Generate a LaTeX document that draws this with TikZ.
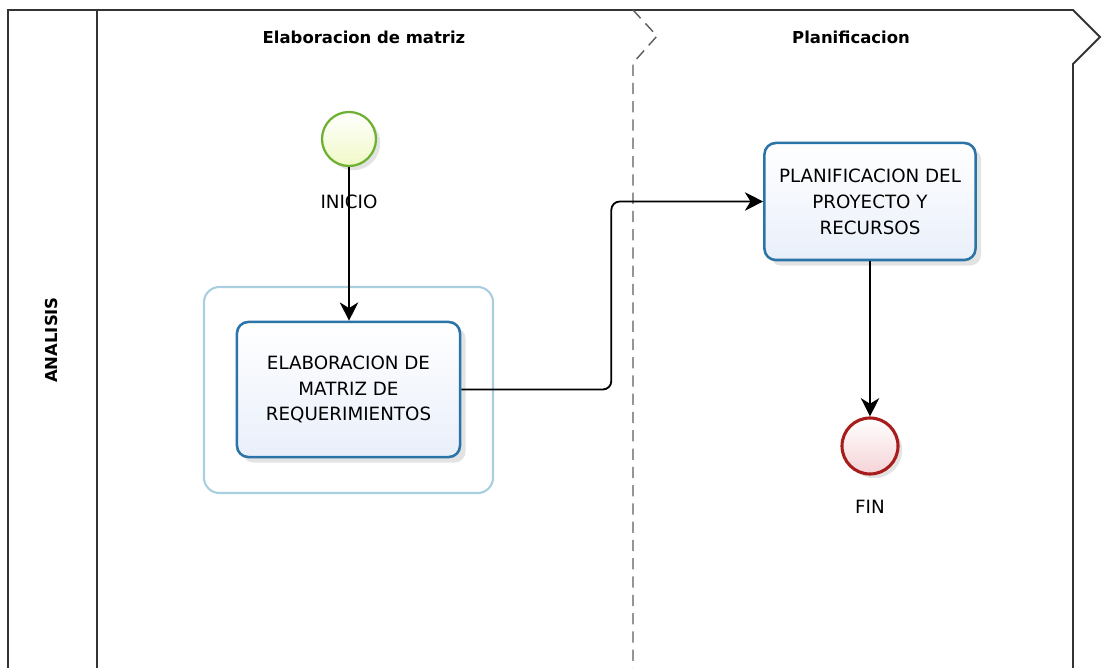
\documentclass[tikz,border=0pt]{standalone}
\usepackage{fontspec}
\setmainfont{DejaVu Sans}
\usetikzlibrary{arrows.meta,shadows}
\definecolor{tareaborde}{HTML}{2B74A8}
\definecolor{tarearelleno}{HTML}{E9EFFA}
\definecolor{grupoborde}{HTML}{A8CEE0}
\definecolor{inicioborde}{HTML}{6CB131}
\definecolor{iniciorelleno}{HTML}{F0F9C6}
\definecolor{finborde}{HTML}{A81C1C}
\definecolor{finrelleno}{HTML}{F5D3D6}
\definecolor{carril}{HTML}{333333}
\begin{document}
\begin{tikzpicture}[>={Stealth[length=13pt,width=13pt,inset=4pt]},x=0.025cm,y=-0.025cm,
    tarea/.style={draw=tareaborde,line width=1.8pt,rounded corners=8pt,top color=white,bottom color=tarearelleno,
        drop shadow={opacity=0.22,shadow xshift=4pt,shadow yshift=-4pt},align=center,font=\fontsize{13}{18.4}\selectfont},
    grupo/.style={draw=grupoborde,line width=1.5pt,rounded corners=11pt,minimum width=7.225cm,minimum height=5.15cm},
    evento/.style={circle,minimum size=#1,inner sep=0pt,drop shadow={opacity=0.22,shadow xshift=3pt,shadow yshift=-3pt}},
    etiqueta/.style={font=\fontsize{13}{15}\selectfont},
    cabecera/.style={font=\fontsize{11.7}{14}\selectfont\bfseries}]
    \useasboundingbox (0,0) rectangle (1104,668);
    % carriles
    \draw[carril,line width=1.4pt] (8,668) -- (8,10) -- (1073,10) -- (1100,37) -- (1073,64) -- (1073,668);
    \draw[carril,line width=1.4pt] (97,10) -- (97,668);
    \draw[carril!80,line width=1pt,dash pattern=on 8pt off 5pt] (633,10) -- (657,36) -- (633,63) -- (633,668);
    \node[cabecera] (cab1) at (364,37) {Elaboracion de matriz};
    \node[cabecera] (cab2) at (851,37) {Planificacion};
    \node[cabecera,rotate=90] (analisis) at (52,340) {ANALISIS};
    % nodos
    \node[grupo] (grupo) at (348.5,390) {};
    \node[evento=1.35cm,draw=inicioborde,line width=1.6pt,top color=white,bottom color=iniciorelleno] (inicio) at (349,139) {};
    \node[etiqueta] (lblinicio) at (349,202) {INICIO};
    \node[tarea,minimum width=5.575cm,minimum height=3.375cm] (matriz) at (348.5,389.5) {ELABORACION DE\\MATRIZ DE\\REQUERIMIENTOS};
    \node[tarea,minimum width=5.275cm,minimum height=2.925cm] (plan) at (870,201.5) {PLANIFICACION DEL\\PROYECTO Y\\RECURSOS};
    \node[evento=1.4cm,draw=finborde,line width=2.2pt,top color=white,bottom color=finrelleno] (fin) at (870,446) {};
    \node[etiqueta] (lblfin) at (870,507) {FIN};
    % flujos
    \draw[->,line width=1.3pt] (inicio.south) -- (inicio.south |- matriz.north);
    \draw[->,line width=1.3pt,rounded corners=6pt] (matriz.east) -- ++(150,0) |- (plan.west);
    \draw[->,line width=1.3pt] (plan.south) -- (fin.north);
\end{tikzpicture}
\end{document}
